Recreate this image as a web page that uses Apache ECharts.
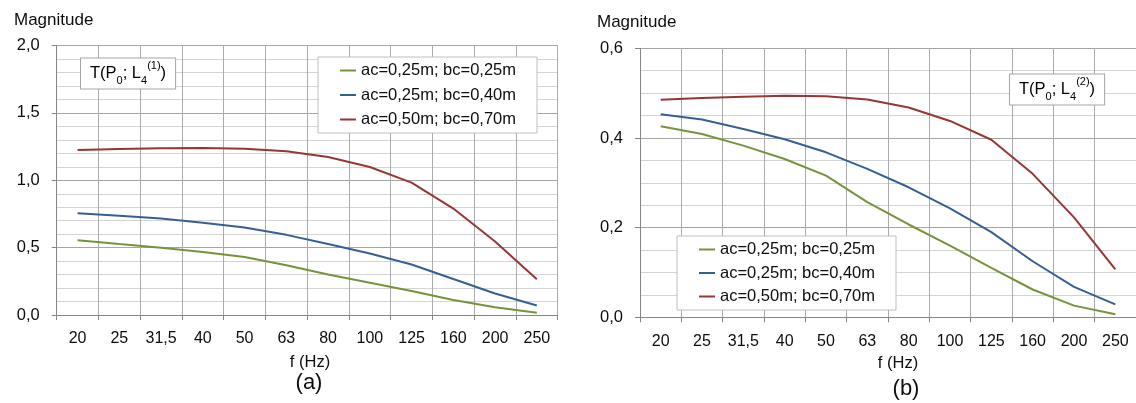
<!DOCTYPE html>
<html>
<head>
<meta charset="utf-8">
<script src="https://cdn.jsdelivr.net/npm/echarts@6/dist/echarts.min.js"></script>
<style>
html,body{margin:0;padding:0;background:#fff;}
#c{width:1136px;height:403px;}
</style>
</head>
<body>
<div id="c"></div>
<script>
// ---- data ----
const categories = ['20','25','31,5','40','50','63','80','100','125','160','200','250'];
const seriesNames = ['ac=0,25m; bc=0,25m','ac=0,25m; bc=0,40m','ac=0,50m; bc=0,70m'];
// chart (a): T(P0; L4(1))
const aGreen = [0.555,0.527,0.500,0.468,0.430,0.370,0.300,0.240,0.178,0.111,0.057,0.017];
const aBlue  = [0.755,0.737,0.716,0.685,0.650,0.595,0.527,0.457,0.375,0.267,0.160,0.070];
const aRed   = [1.225,1.233,1.238,1.240,1.235,1.215,1.173,1.099,0.983,0.790,0.545,0.265];
// chart (b): T(P0; L4(2))
const bGreen = [0.426,0.409,0.383,0.353,0.316,0.257,0.207,0.160,0.110,0.062,0.026,0.007];
const bBlue  = [0.453,0.441,0.420,0.397,0.368,0.331,0.290,0.243,0.190,0.125,0.068,0.029];
const bRed   = [0.485,0.489,0.492,0.494,0.493,0.486,0.468,0.438,0.396,0.320,0.223,0.107];

const colors = ['#77933C','#376092','#953735'];
const FONT = '"Liberation Sans", Arial, sans-serif';
const TXT = '#0d0d0d';

function fmt(v){ return v.toFixed(1).replace('.', ','); }

function xAxis(gi){
  return {
    type:'category', gridIndex:gi, data:categories, boundaryGap:true,
    axisLine:{show:true, lineStyle:{color:'#868686', width:1}},
    axisTick:{show:true, length:5, interval:0, lineStyle:{color:'#868686'}},
    axisLabel:{interval:0, margin:16, fontSize:16, color:TXT, fontFamily:FONT},
    splitLine:{show:true, interval:0, lineStyle:{color:'#ababab', width:1}}
  };
}
function yAxis(gi, max, interval, minorSplit){
  return {
    type:'value', gridIndex:gi, min:0, max:max, interval:interval,
    axisLine:{show:true, lineStyle:{color:'#868686', width:1}},
    axisTick:{show:true, length:5, lineStyle:{color:'#868686'}},
    axisLabel:{margin:17, fontSize:16.5, color:TXT, fontFamily:FONT, formatter:fmt},
    splitLine:{show:true, lineStyle:{color:'#a6a6a6', width:1}},
    minorTick:{show:false, splitNumber:minorSplit},
    minorSplitLine:{show:true, lineStyle:{color:'#d4d4d4', width:1}}
  };
}
function line(name, data, idx, gi){
  return {
    type:'line', name:name, xAxisIndex:gi, yAxisIndex:gi, data:data,
    showSymbol:false, symbol:'none', smooth:false,
    lineStyle:{color:colors[idx], width:2}, itemStyle:{color:colors[idx]},
    animation:false
  };
}
function legend(left, top, itemGap){
  return {
    orient:'vertical', left:left, top:top,
    data:seriesNames, icon:'rect', itemWidth:16, itemHeight:2, itemGap:itemGap,
    padding:[4,21,4,22],
    backgroundColor:'#fff', borderColor:'#bfbfbf', borderWidth:1,
    textStyle:{fontSize:16.5, color:TXT, fontFamily:FONT, lineHeight:19},
    selectedMode:false
  };
}
const rich = {
  n:{fontSize:16.5, fontFamily:FONT, color:TXT, lineHeight:26, verticalAlign:'middle'},
  sub:{fontSize:11, fontFamily:FONT, color:TXT, lineHeight:12, verticalAlign:'bottom'},
  sup:{fontSize:11, fontFamily:FONT, color:TXT, lineHeight:14, verticalAlign:'top'}
};
function tag(x, y, n){
  return {
    type:'text', left:x, top:y, z:100,
    style:{
      text:'{n|T(P}{sub|0}{n|; L}{sub|4}{sup|(' + n + ')}{n|)}',
      rich:rich, backgroundColor:'#fff', borderColor:'#a6a6a6', borderWidth:1,
      padding:[2,9,2,9]
    }
  };
}
function label(x, y, t, size, align){
  return {type:'text', x:x, y:y, z:100,
    style:{text:t, fontSize:size, fontFamily:FONT, fill:TXT, align:align||'center', verticalAlign:'middle'}};
}

const chart = echarts.init(document.getElementById('c'), null, {renderer:'canvas'});
chart.setOption({
  animation:false,
  backgroundColor:'#fff',
  grid:[
    {left:56.7, right:1136-557.7, top:45.6, bottom:403-315, containLabel:false},
    {left:640, right:-4, top:48.3, bottom:403-317.3, containLabel:false}
  ],
  xAxis:[xAxis(0), xAxis(1)],
  yAxis:[yAxis(0, 2, 0.5, 5), yAxis(1, 0.6, 0.2, 4)],
  legend:[legend(318, 57, 5.5), legend(677, 236, 4.5)],
  series:[
    line(seriesNames[0], aGreen, 0, 0),
    line(seriesNames[1], aBlue, 1, 0),
    line(seriesNames[2], aRed, 2, 0),
    line(seriesNames[0], bGreen, 0, 1),
    line(seriesNames[1], bBlue, 1, 1),
    line(seriesNames[2], bRed, 2, 1)
  ],
  graphic:[
    tag(80, 57.5, 1),
    tag(1009, 73.5, 2),
    label(14, 20, 'Magnitude', 17, 'left'),
    label(597, 22, 'Magnitude', 17, 'left'),
    label(310, 362, 'f (Hz)', 16.5),
    label(898, 363, 'f (Hz)', 16.5),
    label(309, 383, '(a)', 22),
    label(906, 389, '(b)', 22)
  ]
});
</script>
</body>
</html>
